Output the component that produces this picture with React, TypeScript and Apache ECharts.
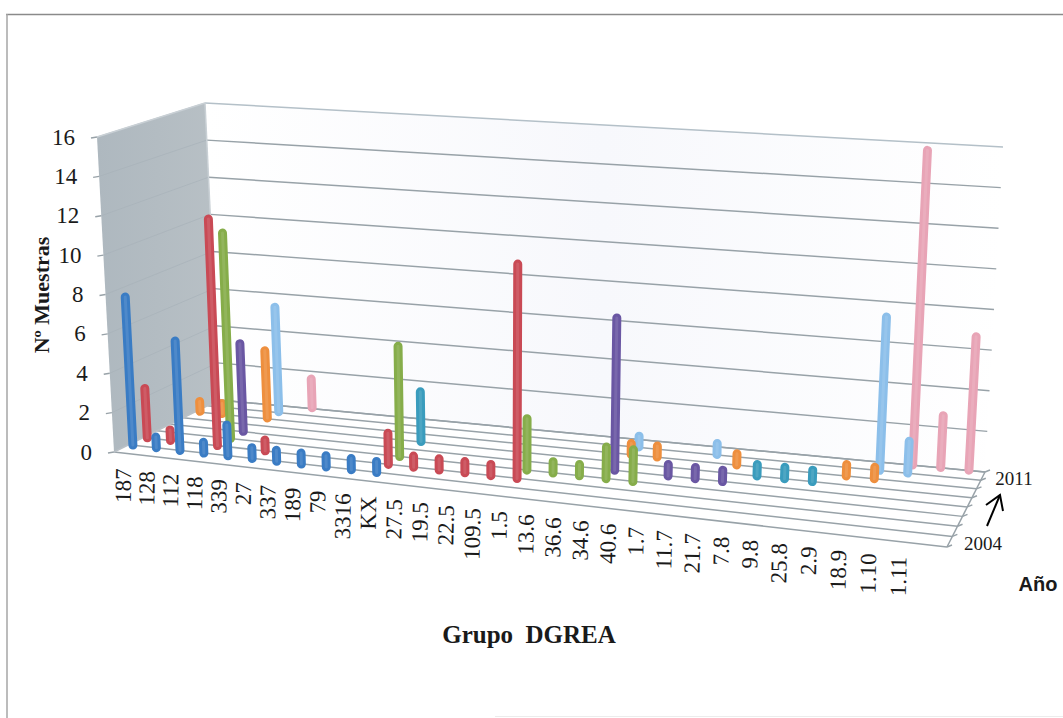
import React, { useEffect, useRef } from "react";
import * as echarts from "echarts";

const categories = ["187","128","112","118","339","27","337","189","79","3316","KX","27.5","19.5","22.5","109.5","1.5","13.6","36.6","34.6","40.6","1.7","11.7","21.7","7.8","9.8","25.8","2.9","18.9","1.10","1.11",""];
const years = ["2004","2005","2006","2007","2008","2009","2010","2011"];
const valueTicks = [0,2,4,6,8,10,12,14,16];

const y2004 = [8,1,6,1,2,1,1,1,1,1,1,0,0,0,0,0,0,0,0,0,0,0,0,0,0,0,0,0,0,0,0];
const y2005 = [3,1,0,12,0,1,0,0,0,0,2,1,1,1,1,11,0,0,0,0,0,0,0,0,0,0,0,0,0,0,0];
const y2006 = [0,0,0,11,0,0,0,0,0,0,6,0,0,0,0,3,1,1,2,2,0,0,0,0,0,0,0,0,0,0,0];
const y2007 = [0,0,0,5,0,0,0,0,0,0,0,0,0,0,0,0,0,0,8,0,1,1,1,0,0,0,0,0,0,0,0];
const y2008 = [0,0,0,0,0,0,0,0,0,0,3,0,0,0,0,0,0,0,0,0,0,0,0,1,1,1,0,0,0,0,0];
const y2009 = [1,1,0,4,0,0,0,0,0,0,0,0,0,0,0,0,0,0,1,1,0,0,1,0,0,0,1,1,0,0,0];
const y2010 = [0,0,0,6,0,0,0,0,0,0,0,0,0,0,0,0,0,0,1,0,0,1,0,0,0,0,0,8,2,0,0];
const y2011 = [0,0,0,0,2,0,0,0,0,0,0,0,0,0,0,0,0,0,0,0,0,0,0,0,0,0,0,0,16,3,7];

const rows = [y2004, y2005, y2006, y2007, y2008, y2009, y2010, y2011];
const rowColors = ["#3a7cc4","#c94a55","#86ad4a","#6a57a3","#3a9cbd","#ee8f3e","#8cbfea","#e8a4b6"];

// Box corners of the 3D plot, in screen pixels: floor, then the 16-level top offset.
const FL = [114, 452], FR = [947, 547], BR = [985, 472], BL = [219, 400];
const LIFT_FL = [-17, -315], LIFT_FR = [22, -345], LIFT_BR = [18, -325], LIFT_BL = [-14, -297];
const MAX_VALUE = 16;
const BAR_WIDTH = 9;

// Foreshortening along the category and depth directions.
const warpU = (t: number) => { const g = 0.13; return ((1 - g) * t) / (1 - g * t); };
const warpV = (s: number) => { const g = 0.15; return ((1 + g) * s) / (1 + g * s); };

const mix = (a: number[], b: number[], k: number) => [a[0] + (b[0] - a[0]) * k, a[1] + (b[1] - a[1]) * k];

// u, v are floor fractions after warping; value is measured on the vertical axis.
function projectRaw(u: number, v: number, value: number) {
  const floor = mix(mix(FL, FR, u), mix(BL, BR, u), v);
  const lift = mix(mix(LIFT_FL, LIFT_FR, u), mix(LIFT_BL, LIFT_BR, u), v);
  const k = value / MAX_VALUE;
  return [floor[0] + lift[0] * k, floor[1] + lift[1] * k];
}
const catU = (i: number) => warpU((i + 0.5) / categories.length);
const rowV = (r: number) => warpV((r + 0.5) / years.length);
const project = (cat: number, row: number, value: number) => projectRaw(catU(cat), rowV(row), value);

const GRID = "#98a2a8";

function polygon(points: number[][], fill: any) {
  return { type: "polygon", shape: { points }, style: { fill, stroke: "none" } };
}
function segment(a: number[], b: number[], stroke: string, lineWidth = 1.5) {
  return { type: "line", shape: { x1: a[0], y1: a[1], x2: b[0], y2: b[1] }, style: { stroke, lineWidth, fill: "none" } };
}
function label(text: string, x: number, y: number, font: string, extra: any = {}) {
  return {
    type: "text", x, y, rotation: extra.rotation ?? 0,
    style: { text, font, fill: "#1a1a1a", align: extra.align ?? "center", verticalAlign: extra.verticalAlign ?? "middle" },
  };
}

// Walls, floor and all grid lines.
function renderBox() {
  const children: any[] = [];
  const topFL = projectRaw(0, 0, 16), topBL = projectRaw(0, 1, 16), topBR = projectRaw(1, 1, 16);
  children.push(polygon([BL, BR, topBR, topBL], {
    type: "linear", x: 0, y: 0, x2: 1, y2: 0,
    colorStops: [{ offset: 0, color: "#ffffff" }, { offset: 0.5, color: "#f7f8fc" }, { offset: 1, color: "#ffffff" }],
  }));
  children.push(polygon([FL, BL, topBL, topFL], {
    type: "linear", x: 0, y: 0, x2: 1, y2: 0,
    colorStops: [{ offset: 0, color: "#aeb8bf" }, { offset: 1, color: "#b8c0c5" }],
  }));
  children.push(polygon([FL, FR, BR, BL], "#ffffff"));
  for (const tick of valueTicks) {
    const a = projectRaw(0, 0, tick), b = projectRaw(0, 1, tick), c = projectRaw(1, 1, tick);
    children.push(segment([a[0] - 6, a[1] + 1], a, GRID));
    if (tick > 0) children.push(segment(a, b, "#a8b2b9", 0.7));
    children.push(segment(b, c, tick === 16 ? "#b4c0c8" : GRID));
  }
  for (let r = 0; r <= years.length; r++) {
    const v = warpV(r / years.length);
    const a = projectRaw(0, v, 0), b = projectRaw(1, v, 0);
    children.push(segment(a, b, GRID));
    children.push(segment(b, [b[0] + 5, b[1] - 2], GRID));
  }
  children.push(segment(FL, BL, "#b9c0c6"));
  children.push(segment(FR, BR, GRID));
  children.push(segment(topFL, topBL, "#c9d0d5"));
  children.push(segment(topBL, BL, "#c9d0d5"));
  return { type: "group", children };
}

// One cylinder per data item; the rounded caps stay inside the value's extent.
function renderBar(params: any, api: any) {
  const cat = api.value(0), row = api.value(1), value = api.value(2);
  if (!value) return null;
  const base = project(cat, row, 0), top = project(cat, row, value);
  const len = Math.hypot(top[0] - base[0], top[1] - base[1]);
  const inset = (BAR_WIDTH / 2) / len;
  const a = mix(base, top, inset), b = mix(top, base, inset);
  const color = api.visual("color");
  const seg = (w: number, stroke: string, opacity: number) => ({
    type: "line",
    shape: { x1: a[0], y1: a[1], x2: b[0], y2: b[1] },
    style: { stroke, lineWidth: w, lineCap: "round", opacity, fill: "none" },
  });
  return { type: "group", children: [seg(BAR_WIDTH, color, 1), seg(3, "#ffffff", 0.1)] };
}

// Value ticks, category names, year marks and axis titles.
function renderTexts() {
  const serif = "'Liberation Serif'";
  const children: any[] = [];
  for (const tick of valueTicks) {
    const p = projectRaw(0, 0, tick);
    children.push(label(String(tick), p[0] - 22, p[1], `23px ${serif}`, { align: "right" }));
  }
  categories.forEach((name, i) => {
    if (!name) return;
    const p = projectRaw(catU(i), 0, 0);
    children.push(label(name, p[0] - 2, p[1] + 15, `23px ${serif}`, { align: "right", rotation: (89 * Math.PI) / 180 }));
  });
  children.push(label(years[years.length - 1], 1014, 478, `19px ${serif}`));
  children.push(label(years[0], 983, 543, `19px ${serif}`));
  children.push(label("Nº Muestras", 41, 295, `bold 22px ${serif}`, { rotation: Math.PI / 2 }));
  children.push(label("Grupo  DGREA", 529, 634, `bold 25px ${serif}`));
  children.push(label("Año", 1038, 584, "bold 20px 'Liberation Sans'"));
  children.push(segment([987, 526], [1000, 495], "#000000", 2));
  children.push({ type: "polyline", shape: { points: [[986, 505], [1000, 495], [1003, 511]] }, style: { stroke: "#000000", lineWidth: 2, fill: "none" } });
  return { type: "group", children };
}

// Page frame: top and left rules, with a faint stretch of the lower rule.
function renderFrame() {
  return {
    type: "group",
    children: [
      segment([6, 14.5], [1063, 14.5], "#8a8a8a", 1.5),
      segment([7, 14], [7, 718], "#a6a6a6", 1.5),
      segment([495, 716.5], [1063, 716.5], "#ececec", 1),
    ],
  };
}

export default function App() {
  const ref = useRef<HTMLDivElement>(null);
  useEffect(() => {
    const chart = echarts.init(ref.current!, undefined, { renderer: "svg" });
    const barSeries = rows
      .map((values, r) => ({
        type: "custom",
        name: years[r],
        coordinateSystem: "none",
        itemStyle: { color: rowColors[r] },
        data: values.map((v, i) => [i, r, v]),
        renderItem: renderBar,
        z: 10 + (years.length - r),
      }))
      .reverse();
    chart.setOption({
      animation: false,
      backgroundColor: "#ffffff",
      series: [
        { type: "custom", coordinateSystem: "none", data: [[0]], renderItem: renderFrame, z: 1 },
        { type: "custom", coordinateSystem: "none", data: [[0]], renderItem: renderBox, z: 5 },
        ...barSeries,
        { type: "custom", coordinateSystem: "none", data: [[0]], renderItem: renderTexts, z: 30 },
      ],
    });
    return () => chart.dispose();
  }, []);
  return <div ref={ref} style={{ position: "fixed", left: 0, top: 0, width: 1063, height: 718 }} />;
}
